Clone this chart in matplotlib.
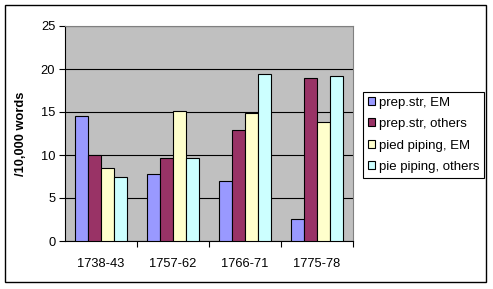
import matplotlib
matplotlib.use("Agg")
import matplotlib.pyplot as plt
import numpy as np
from matplotlib.patches import Rectangle

plt.rcParams["font.family"] = ["Liberation Sans", "DejaVu Sans"]

periods = ["1738-43", "1757-62", "1766-71", "1775-78"]
series_names = ["prep.str, EM", "prep.str, others", "pied piping, EM", "pie piping, others"]
prep_em = [14.5, 7.75, 7.0, 2.6]
prep_others = [10.0, 9.6, 12.9, 19.0]
pied_em = [8.5, 15.1, 14.9, 13.8]
pied_others = [7.5, 9.6, 19.4, 19.15]
colours = ["#9999FF", "#993366", "#FFFFCC", "#CCFFFF"]

W, H = 493, 289
fig = plt.figure(figsize=(W / 100, H / 100), dpi=100)
fig.patch.set_facecolor("white")

# outer chart frame
fig.patches.append(Rectangle((5 / W, 7 / H), 481 / W, 277 / H, transform=fig.transFigure,
                             fill=False, edgecolor="black", linewidth=1.0))

ax = fig.add_axes([65 / W, 48 / H, 288 / W, 215 / H])
ax.set_facecolor("#C0C0C0")

x = np.arange(len(periods))
bw = 0.182
all_series = [prep_em, prep_others, pied_em, pied_others]
for i, (vals, c, name) in enumerate(zip(all_series, colours, series_names)):
    ax.bar(x + (i - 1.5) * bw, vals, width=bw, color=c, edgecolor="black",
           linewidth=0.8, label=name, zorder=3)

ax.set_xlim(-0.5, 3.5)
ax.set_ylim(0, 25)
ax.set_yticks([0, 5, 10, 15, 20, 25])
ax.yaxis.grid(True, color="black", linewidth=0.8, zorder=1)
ax.set_axisbelow(True)

ax.set_xticks(x)
ax.set_xticklabels(periods, fontsize=9.3)
ax.set_xticks([0.5, 1.5, 2.5, 3.5], minor=True)
ax.tick_params(axis="x", which="major", length=0, pad=12)
ax.tick_params(axis="x", which="minor", length=4, direction="out", width=0.8)
ax.tick_params(axis="y", length=4, direction="out", width=0.8, labelsize=9.3, pad=3)
ax.set_ylabel("/10,000 words", fontsize=9.3, fontweight="bold", labelpad=10)

for side in ["top", "right"]:
    ax.spines[side].set_color("#808080")
for side in ["left", "bottom"]:
    ax.spines[side].set_color("black")

leg = ax.legend(loc="upper left", bbox_to_anchor=(363 / W, (H - 92) / H),
                bbox_transform=fig.transFigure, fontsize=9.5, frameon=True,
                fancybox=False, edgecolor="black", framealpha=1,
                handlelength=0.55, handleheight=0.55, handletextpad=0.3,
                labelspacing=0.72, borderpad=0.35, borderaxespad=0)
leg.get_frame().set_linewidth(0.8)

fig.savefig("out.png", dpi=100)
